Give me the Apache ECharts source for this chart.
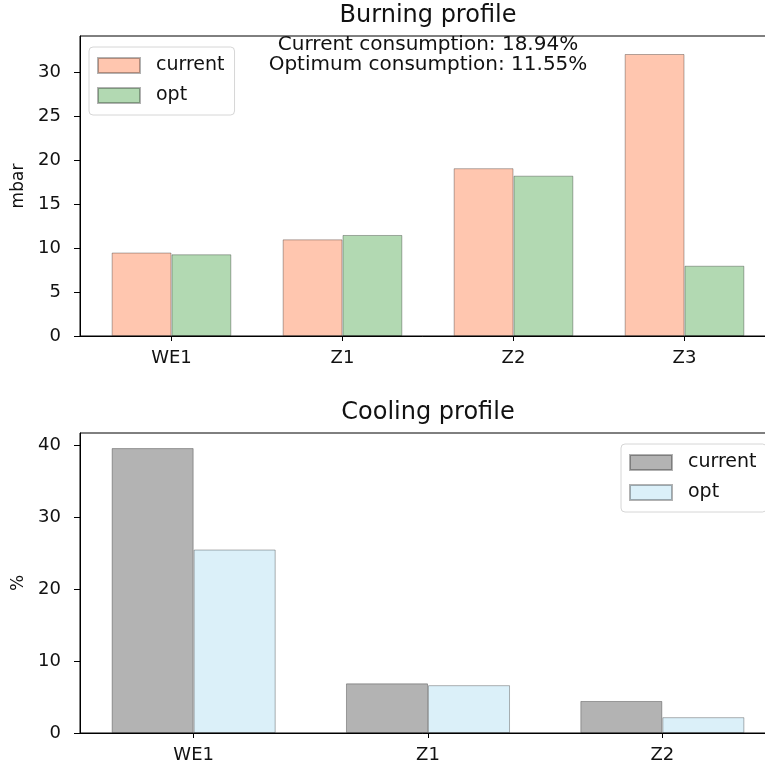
<!DOCTYPE html>
<html>
<head>
<meta charset="utf-8">
<script src="https://cdn.jsdelivr.net/npm/echarts@6/dist/echarts.min.js"></script>
<style>
  html, body { margin: 0; padding: 0; background: #fff; }
  #chart { width: 765px; height: 767px; }
</style>
</head>
<body>
<div id="chart"></div>
<script>
// Burner pressure per zone (mbar)
const burnZones = ['WE1', 'Z1', 'Z2', 'Z3'];
const burnCurrent = [9.5, 11.0, 19.1, 32.1];
const burnOpt = [9.3, 11.5, 18.25, 8.0];
const burnTicks = [0, 5, 10, 15, 20, 25, 30];

// Cooling share per zone (%)
const coolZones = ['WE1', 'Z1', 'Z2'];
const coolCurrent = [39.6, 6.9, 4.45];
const coolOpt = [25.5, 6.65, 2.2];
const coolTicks = [0, 10, 20, 30, 40];

const consumptionCurrent = 18.94;
const consumptionOpt = 11.55;

const FONT = 'DejaVu Sans';
const INK = '#111';

// pair each value with its zone index so bars sit on the value x axis
const toPoints = vals => vals.map((v, i) => [i, v]);
const idx = arr => arr.map((_, i) => i);

function xAxisFor(gridIndex, zones) {
  const pad = 0.35 + 0.05 * (zones.length - 1 + 0.7);
  return {
    type: 'value', gridIndex,
    min: -pad, max: zones.length - 1 + pad,
    axisLine: { show: true, onZero: false, lineStyle: { color: '#000', width: 1 } },
    axisTick: { show: true, length: 5, customValues: idx(zones), lineStyle: { color: '#000' } },
    axisLabel: {
      customValues: idx(zones), margin: 13,
      fontFamily: FONT, fontSize: 18, color: INK,
      formatter: v => zones[Math.round(v)]
    },
    splitLine: { show: false }
  };
}

function yAxisFor(gridIndex, max, ticks, name, gap) {
  return {
    type: 'value', gridIndex, min: 0, max,
    name, nameLocation: 'middle', nameRotate: 90, nameGap: gap,
    nameTextStyle: { fontFamily: FONT, fontSize: 17, color: INK },
    axisLine: { show: true, onZero: false, lineStyle: { color: '#000', width: 1 } },
    axisTick: { show: true, length: 6, customValues: ticks, lineStyle: { color: '#000' } },
    axisLabel: { customValues: ticks, margin: 19, fontFamily: FONT, fontSize: 18, color: INK },
    splitLine: { show: false }
  };
}

function barSeries(name, xi, vals, fill) {
  return {
    type: 'bar', name, xAxisIndex: xi, yAxisIndex: xi,
    data: toPoints(vals),
    barWidth: '35%', barGap: '0%',
    itemStyle: { color: fill, borderColor: 'rgba(0,0,0,0.3)', borderWidth: 1 },
    emphasis: { disabled: true }
  };
}

const legendLabels = {
  burnCurrent: 'current', burnOpt: 'opt',
  coolCurrent: 'current', coolOpt: 'opt'
};

function legendAt(left, top, names) {
  return {
    orient: 'vertical', left, top, data: names,
    icon: 'rect', itemWidth: 42, itemHeight: 15, itemGap: 11,
    padding: [9, 10, 10, 8],
    backgroundColor: 'rgba(255,255,255,0.8)',
    borderColor: '#d6d6d6', borderWidth: 1, borderRadius: 4,
    formatter: n => legendLabels[n],
    textStyle: { fontFamily: FONT, fontSize: 19, color: INK, lineHeight: 15, padding: [0, 0, 0, 11] },
    selectedMode: false
  };
}

function textAt(x, y, text, size, lineHeight) {
  return {
    type: 'text', x, y,
    style: {
      text, align: 'center', verticalAlign: 'middle',
      font: size + 'px "DejaVu Sans"', lineHeight: lineHeight || size, fill: INK
    }
  };
}

const chart = echarts.init(document.getElementById('chart'), null, { renderer: 'canvas' });

chart.setOption({
  animation: false,
  backgroundColor: '#fff',
  grid: [
    { left: 80, top: 36, width: 696, height: 300, outerBoundsMode: 'none', containLabel: false,
      show: true, borderColor: '#000', borderWidth: 1, backgroundColor: 'transparent' },
    { left: 80, top: 433, width: 696, height: 300, outerBoundsMode: 'none', containLabel: false,
      show: true, borderColor: '#000', borderWidth: 1, backgroundColor: 'transparent' }
  ],
  xAxis: [xAxisFor(0, burnZones), xAxisFor(1, coolZones)],
  yAxis: [yAxisFor(0, 34.15, burnTicks, 'mbar', 50), yAxisFor(1, 41.7, coolTicks, '%', 52)],
  legend: [
    legendAt(89, 47, ['burnCurrent', 'burnOpt']),
    legendAt(621, 444, ['coolCurrent', 'coolOpt'])
  ],
  graphic: [
    textAt(428, 16, 'Burning profile', 24),
    textAt(428, 413, 'Cooling profile', 24),
    textAt(428, 55, 'Current consumption: ' + consumptionCurrent.toFixed(2) + '%\nOptimum consumption: ' + consumptionOpt.toFixed(2) + '%', 20, 20)
  ],
  series: [
    barSeries('burnCurrent', 0, burnCurrent, 'rgba(255,160,122,0.6)'),
    barSeries('burnOpt', 0, burnOpt, 'rgba(0,128,0,0.3)'),
    barSeries('coolCurrent', 1, coolCurrent, 'rgba(128,128,128,0.6)'),
    barSeries('coolOpt', 1, coolOpt, 'rgba(135,206,235,0.3)')
  ]
});
</script>
</body>
</html>
